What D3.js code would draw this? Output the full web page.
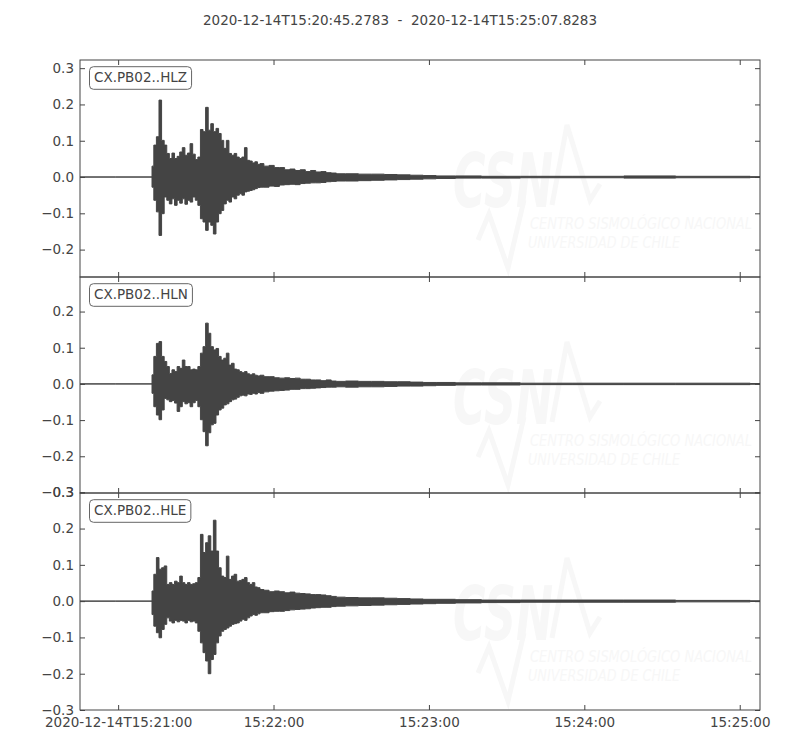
<!DOCTYPE html>
<html>
<head>
<meta charset="utf-8">
<script src="https://cdn.jsdelivr.net/npm/d3@7"></script>
<style>
  html, body { margin: 0; padding: 0; background: #fff; }
  svg { display: block; }
  text { font-family: "DejaVu Sans", sans-serif; }
</style>
</head>
<body>
<svg id="chart" width="800" height="750"></svg>
<script>
// ---------------- DATA ----------------
const startTime = "2020-12-14T15:20:45.278Z";
const endTime   = "2020-12-14T15:25:07.828Z";
const titleText = "2020-12-14T15:20:45.2783  -  2020-12-14T15:25:07.8283";
const traceIds = ["CX.PB02..HLZ", "CX.PB02..HLN", "CX.PB02..HLE"];

// seconds since start time
const times = [0, 27.6,
  28,29,30,31,32,33,34,35,36,37,38,39,40,41,42,43,44,45,46,47,48,49,50,51,52,53,54,55,56,57,58,59,60,61,62,63,64,65,66,67,68,69,70,
  72,74,76,78,80,82,84,86,88,90,92,94,96,98,100,
  105,110,115,120,125,130,135,140,150,160,180,200,220,240,255,262.55];

const hlzMax = [0, 0,
  0.030,0.088,0.111,0.212,0.101,0.088,0.065,0.051,0.066,0.051,0.057,0.069,0.081,0.060,0.066,0.092,0.063,0.048,0.055,
  0.131,0.125,0.192,0.129,0.147,0.125,0.134,0.120,0.101,0.079,0.101,0.065,0.060,0.065,0.055,0.051,0.055,0.081,
  0.046,0.044,0.039,0.042,0.035,0.037,
  0.030,0.032,0.026,0.026,0.020,0.022,0.018,0.020,0.015,0.018,0.014,0.015,0.012,0.011,0.009,
  0.009,0.008,0.008,0.007,0.006,0.005,0.004,0.003,0.003,0.002,0.002,0.002,0.003,0.002,0.002,0.001];
const hlzMin = [0, 0,
  -0.028,-0.064,-0.096,-0.161,-0.101,-0.055,-0.064,-0.074,-0.060,-0.078,-0.064,-0.072,-0.060,-0.075,-0.064,-0.069,-0.055,-0.064,-0.078,
  -0.115,-0.124,-0.147,-0.124,-0.133,-0.157,-0.124,-0.101,-0.092,-0.074,-0.064,-0.069,-0.055,-0.060,-0.050,-0.046,-0.050,-0.041,
  -0.039,-0.037,-0.035,-0.032,-0.029,-0.028,
  -0.028,-0.025,-0.026,-0.022,-0.021,-0.020,-0.021,-0.018,-0.017,-0.016,-0.016,-0.015,-0.013,-0.012,-0.011,
  -0.011,-0.010,-0.009,-0.008,-0.007,-0.006,-0.005,-0.004,-0.003,-0.003,-0.002,-0.002,-0.003,-0.002,-0.002,-0.001];

const hlnMax = [0, 0,
  0.025,0.076,0.112,0.117,0.076,0.062,0.048,0.029,0.039,0.034,0.048,0.043,0.066,0.048,0.048,0.039,0.041,0.039,0.048,
  0.085,0.103,0.168,0.140,0.103,0.094,0.098,0.076,0.066,0.071,0.085,0.052,0.057,0.041,0.039,0.034,0.031,0.034,
  0.028,0.025,0.028,0.024,0.022,0.024,
  0.020,0.020,0.017,0.016,0.017,0.015,0.016,0.013,0.013,0.011,0.011,0.009,0.011,0.008,0.007,
  0.008,0.007,0.007,0.006,0.006,0.005,0.004,0.004,0.003,0.003,0.002,0.002,0.002,0.002,0.002,0.001];
const hlnMin = [0, 0,
  -0.026,-0.063,-0.086,-0.099,-0.072,-0.040,-0.044,-0.049,-0.046,-0.053,-0.076,-0.063,-0.049,-0.055,-0.052,-0.063,-0.052,-0.046,-0.063,
  -0.099,-0.132,-0.171,-0.135,-0.113,-0.109,-0.086,-0.072,-0.067,-0.058,-0.055,-0.049,-0.044,-0.042,-0.037,-0.033,-0.031,-0.033,
  -0.028,-0.029,-0.026,-0.028,-0.024,-0.026,
  -0.022,-0.020,-0.019,-0.018,-0.017,-0.015,-0.015,-0.013,-0.013,-0.012,-0.011,-0.010,-0.009,-0.009,-0.008,
  -0.009,-0.008,-0.008,-0.007,-0.006,-0.006,-0.005,-0.004,-0.003,-0.003,-0.002,-0.002,-0.002,-0.002,-0.002,-0.001];

const hleMax = [0, 0,
  0.028,0.074,0.120,0.088,0.092,0.097,0.046,0.051,0.046,0.055,0.051,0.069,0.051,0.046,0.051,0.046,0.048,0.051,0.065,
  0.184,0.134,0.161,0.180,0.138,0.223,0.138,0.092,0.069,0.065,0.124,0.060,0.069,0.074,0.055,0.057,0.060,0.065,
  0.051,0.046,0.051,0.039,0.037,0.032,
  0.030,0.026,0.028,0.026,0.023,0.025,0.022,0.021,0.020,0.018,0.018,0.017,0.015,0.013,0.011,
  0.010,0.009,0.009,0.008,0.007,0.006,0.005,0.005,0.004,0.003,0.003,0.003,0.003,0.002,0.002,0.001];
const hleMin = [0, 0,
  -0.037,-0.069,-0.087,-0.101,-0.078,-0.064,-0.046,-0.055,-0.060,-0.053,-0.057,-0.053,-0.055,-0.060,-0.053,-0.057,-0.055,-0.060,-0.083,
  -0.115,-0.142,-0.165,-0.200,-0.161,-0.147,-0.115,-0.096,-0.083,-0.078,-0.074,-0.069,-0.064,-0.062,-0.060,-0.055,-0.050,-0.053,
  -0.046,-0.041,-0.037,-0.039,-0.035,-0.032,
  -0.032,-0.029,-0.028,-0.028,-0.026,-0.024,-0.023,-0.022,-0.021,-0.019,-0.018,-0.017,-0.017,-0.015,-0.014,
  -0.013,-0.012,-0.011,-0.010,-0.009,-0.008,-0.007,-0.006,-0.005,-0.004,-0.003,-0.003,-0.003,-0.002,-0.002,-0.001];

const xTickTimes  = ["2020-12-14T15:21:00Z","2020-12-14T15:22:00Z","2020-12-14T15:23:00Z","2020-12-14T15:24:00Z","2020-12-14T15:25:00Z"];
const xTickLabels = ["2020-12-14T15:21:00","15:22:00","15:23:00","15:24:00","15:25:00"];
const yTickValues = [-0.3,-0.2,-0.1,0.0,0.1,0.2,0.3];

// ---------------- LAYOUT ----------------
const INK = "#444444";
const left = 80, right = 760;
const panels = [
  { id: traceIds[0], hi: hlzMax, lo: hlzMin, top: 60,  bottom: 277, domain: [-0.2755, 0.3225] },
  { id: traceIds[1], hi: hlnMax, lo: hlnMin, top: 277, bottom: 493, domain: [-0.3015, 0.2955] },
  { id: traceIds[2], hi: hleMax, lo: hleMin, top: 493, bottom: 710, domain: [-0.3000, 0.2980] }
];

const svg = d3.select("#chart");
const t0 = new Date(startTime);
const x = d3.scaleUtc().domain([t0, new Date(endTime)]).range([left, right]);
const toDate = s => new Date(t0.getTime() + s * 1000);
const tickDates = xTickTimes.map(s => new Date(s));
const fmtY = d3.format(".1f");

// title
svg.append("text")
  .attr("x", 400).attr("y", 25)
  .attr("text-anchor", "middle")
  .attr("fill", INK)
  .style("font-size", "13.5px")
  .style("white-space", "pre")
  .attr("xml:space", "preserve")
  .text(titleText);

const defs = svg.append("defs");

panels.forEach((p, i) => {
  const y = d3.scaleLinear().domain(p.domain).range([p.bottom, p.top]);
  const g = svg.append("g");
  const clipId = "clip" + i;
  defs.append("clipPath").attr("id", clipId)
    .append("rect").attr("x", left).attr("y", p.top).attr("width", right - left).attr("height", p.bottom - p.top);

  const inner = g.append("g").attr("clip-path", `url(#${clipId})`);

  // watermark (faint logo)
  const wm = inner.append("g").attr("transform", `translate(0,${p.top - 60})`);
  const wmColor = "#f7f7f7";
  wm.append("polyline")
    .attr("points", "478,240 489,214 508,268 524,200")
    .attr("fill", "none").attr("stroke", wmColor).attr("stroke-width", 5).attr("stroke-linejoin", "miter");
  wm.append("polyline")
    .attr("points", "552,205 567,125 590,200 600,184")
    .attr("fill", "none").attr("stroke", wmColor).attr("stroke-width", 5);
  wm.append("text").attr("x", 453).attr("y", 207)
    .attr("textLength", 100).attr("lengthAdjust", "spacingAndGlyphs")
    .attr("fill", wmColor)
    .style("font-size", "74px").style("font-weight", "bold").style("font-style", "italic")
    .text("CSN");
  wm.append("text").attr("x", 530).attr("y", 229)
    .attr("textLength", 222).attr("lengthAdjust", "spacingAndGlyphs")
    .attr("fill", wmColor)
    .style("font-size", "15px").style("font-style", "italic")
    .text("CENTRO SISMOLÓGICO NACIONAL");
  wm.append("text").attr("x", 528).attr("y", 248)
    .attr("textLength", 152).attr("lengthAdjust", "spacingAndGlyphs")
    .attr("fill", wmColor)
    .style("font-size", "15px").style("font-style", "italic")
    .text("UNIVERSIDAD DE CHILE");

  // waveform envelope (min/max per time bin)
  const rows = times.map((t, k) => ({ t: toDate(t), hi: p.hi[k], lo: p.lo[k] }));
  const area = d3.area()
    .curve(d3.curveStep)
    .x(d => x(d.t))
    .y0(d => y(d.lo))
    .y1(d => y(d.hi));
  inner.append("path")
    .datum(rows)
    .attr("d", area)
    .attr("fill", INK)
    .attr("stroke", INK)
    .attr("stroke-width", 1);

  // axes (ticks inside)
  const yt = yTickValues.filter(v => v >= p.domain[0] - 0.002 && v <= p.domain[1] + 0.002);
  const axL = g.append("g").attr("transform", `translate(${left},0)`)
    .call(d3.axisLeft(y).tickValues(yt).tickSize(-5).tickPadding(6).tickFormat(fmtY));
  const axR = g.append("g").attr("transform", `translate(${right},0)`)
    .call(d3.axisRight(y).tickValues(yt).tickSize(-5).tickFormat(""));
  const axT = g.append("g").attr("transform", `translate(0,${p.top})`)
    .call(d3.axisTop(x).tickValues(tickDates).tickSize(-5).tickFormat(""));
  const axB = g.append("g").attr("transform", `translate(0,${p.bottom})`)
    .call(d3.axisBottom(x).tickValues(tickDates).tickSize(-5).tickPadding(7)
      .tickFormat(i === panels.length - 1 ? ((d, k) => xTickLabels[k]) : ""));
  [axL, axR, axT, axB].forEach(a => {
    a.select(".domain").remove();
    a.selectAll("line").attr("stroke", INK);
    a.selectAll("text").attr("fill", INK).style("font-size", "13.5px").style("font-family", "DejaVu Sans, sans-serif");
  });

  // frame
  g.append("rect")
    .attr("x", left).attr("y", p.top)
    .attr("width", right - left).attr("height", p.bottom - p.top)
    .attr("fill", "none").attr("stroke", INK).attr("stroke-width", 1);

  // label box
  const boxRect = g.append("rect");
  const lbl = g.append("text")
    .attr("x", 94).attr("y", p.top + 22)
    .attr("fill", INK)
    .style("font-size", "13.5px")
    .text(p.id);
  const bb = lbl.node().getBBox();
  boxRect
    .attr("x", bb.x - 4.5).attr("y", p.top + 6.7)
    .attr("width", bb.width + 9).attr("height", 22.6)
    .attr("rx", 4).attr("ry", 4)
    .attr("fill", "#ffffff").attr("stroke", "#666666").attr("stroke-width", 1);
});
</script>
</body>
</html>
